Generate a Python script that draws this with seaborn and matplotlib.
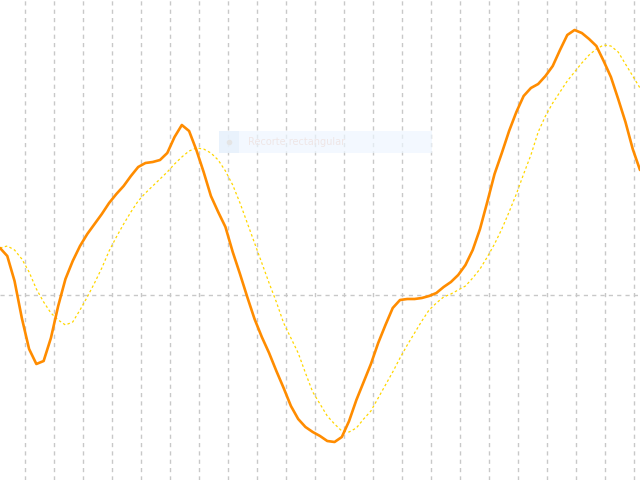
import matplotlib
matplotlib.use("Agg")
import matplotlib.pyplot as plt
import matplotlib.patches as mpatches
import numpy as np
import pandas as pd
import seaborn as sns

# orange series (fast line)
fast = [0.47, 0.39, 0.14, -0.23, -0.54, -0.69, -0.66, -0.43, -0.11, 0.16,
        0.34, 0.49, 0.61, 0.71, 0.81, 0.92, 1.01, 1.09, 1.19, 1.28,
        1.32, 1.33, 1.35, 1.42, 1.58, 1.70, 1.64, 1.45, 1.23, 0.99,
        0.83, 0.68, 0.43, 0.21, -0.02, -0.24, -0.42, -0.58, -0.76, -0.93,
        -1.11, -1.24, -1.32, -1.37, -1.41, -1.46, -1.47, -1.42, -1.26, -1.05,
        -0.87, -0.69, -0.48, -0.30, -0.13, -0.05, -0.04, -0.04, -0.03, -0.01,
        0.02, 0.08, 0.13, 0.20, 0.30, 0.45, 0.66, 0.93, 1.21, 1.42,
        1.64, 1.83, 1.99, 2.07, 2.11, 2.19, 2.29, 2.45, 2.60, 2.65,
        2.62, 2.56, 2.49, 2.34, 2.18, 1.96, 1.73, 1.46, 1.25]

# yellow series (slow, dotted line)
slow = [0.47, 0.49, 0.45, 0.36, 0.23, 0.06, -0.07, -0.18, -0.25, -0.30,
        -0.27, -0.15, -0.02, 0.12, 0.27, 0.44, 0.58, 0.71, 0.83, 0.94,
        1.02, 1.09, 1.16, 1.23, 1.31, 1.38, 1.44, 1.47, 1.46, 1.42,
        1.35, 1.24, 1.10, 0.92, 0.72, 0.52, 0.32, 0.12, -0.07, -0.28,
        -0.43, -0.58, -0.78, -0.97, -1.09, -1.21, -1.29, -1.36, -1.37, -1.33,
        -1.24, -1.16, -1.03, -0.90, -0.77, -0.63, -0.50, -0.38, -0.26, -0.15,
        -0.08, -0.02, 0.01, 0.05, 0.09, 0.17, 0.26, 0.38, 0.51, 0.66,
        0.83, 1.01, 1.21, 1.40, 1.63, 1.79, 1.92, 2.03, 2.14, 2.23,
        2.32, 2.40, 2.46, 2.50, 2.49, 2.43, 2.31, 2.19, 2.07]

label = "Recorte rectangular"

df = pd.DataFrame({"x": np.arange(len(fast)), "fast": fast, "slow": slow})

sns.set_style("white")
fig = plt.figure(figsize=(6.4, 4.8), dpi=100)
ax = fig.add_axes([0, 0, 1, 1])

sns.lineplot(data=df, x="x", y="slow", ax=ax, color="#ffd700", lw=0.9,
             linestyle=(0, (2, 2)), zorder=3)
sns.lineplot(data=df, x="x", y="fast", ax=ax, color="#ff8c00", lw=1.9, zorder=4)

ax.set_xlim(0, len(fast) - 1)
ax.set_ylim(-1.85, 2.95)

# grid lines every 29 px, first one at 25 px
scale = (len(fast) - 1) / 640
ax.set_xticks([(25 + 29 * k) * scale for k in range(22)])
ax.set_yticks([0])
ax.grid(True, color="#c8c8c8", lw=1, linestyle=(0, (3, 3)), zorder=1)
ax.set_axisbelow(True)
ax.tick_params(length=0, labelbottom=False, labelleft=False)
for s in ax.spines.values():
    s.set_visible(False)
ax.set_xlabel("")
ax.set_ylabel("")

# faded legend box
box = mpatches.Rectangle((219 / 640, 1 - 153 / 480), 213 / 640, 22 / 480,
                         transform=ax.transAxes, facecolor="#eef6ff",
                         alpha=0.7, edgecolor="none", zorder=2)
ax.add_patch(box)
sq = mpatches.Rectangle((219 / 640, 1 - 153 / 480), 20 / 640, 22 / 480,
                        transform=ax.transAxes, facecolor="#e6f0fb",
                        alpha=0.7, edgecolor="none", zorder=2)
ax.add_patch(sq)
ax.plot([229 / 640], [1 - 142 / 480], "o", ms=3, color="#e4e4e4",
        transform=ax.transAxes, zorder=2)
ax.text(248 / 640, 1 - 142 / 480, label, transform=ax.transAxes,
        fontsize=7, color="#efe6e6", va="center", ha="left", zorder=2)

fig.savefig("out.png", dpi=100)
